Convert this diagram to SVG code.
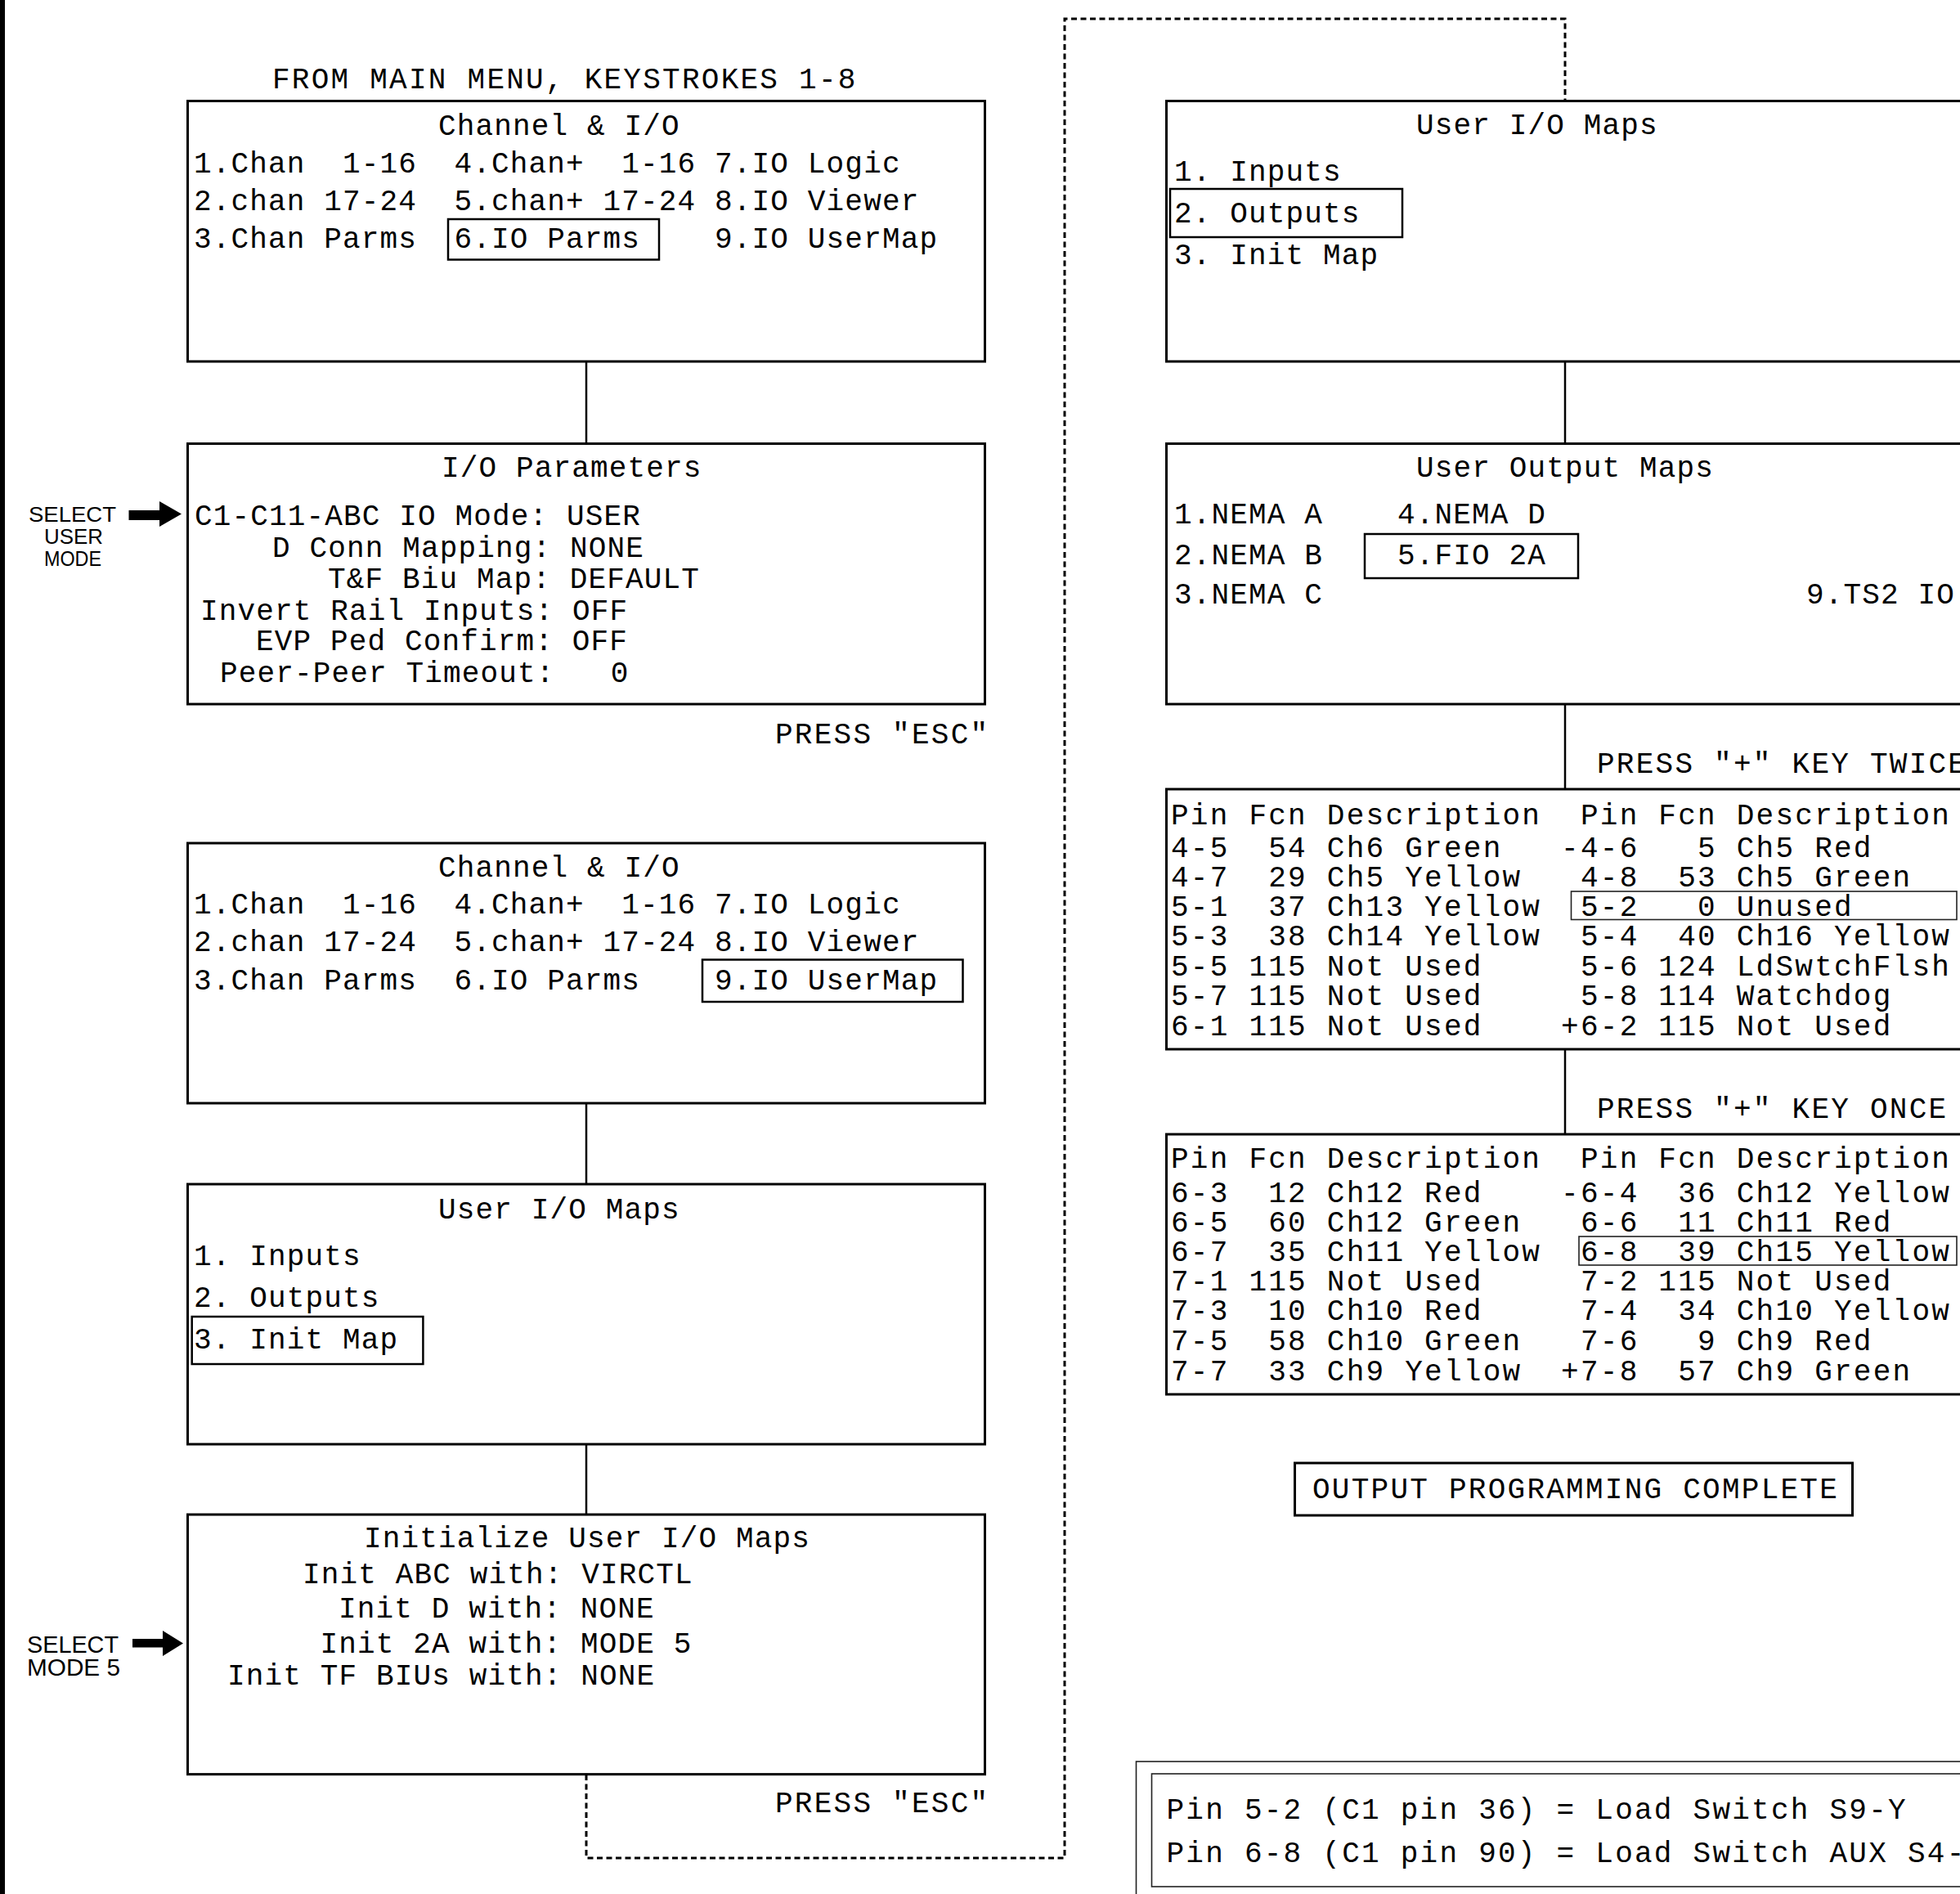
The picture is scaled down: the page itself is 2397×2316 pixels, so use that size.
<svg xmlns="http://www.w3.org/2000/svg" width="2397" height="2316" viewBox="0 0 2397 2316">
<style>
.box{fill:none;stroke:#000;stroke-width:3}
.hl{fill:none;stroke:#000;stroke-width:2.5}
.thin{fill:none;stroke:#222;stroke-width:1.6}
.con{fill:none;stroke:#000;stroke-width:2.5}
.dash{fill:none;stroke:#000;stroke-width:3;stroke-dasharray:7 4.5}
text{font-family:"Liberation Mono","DejaVu Sans Mono",monospace;font-size:36px;fill:#000;white-space:pre}
.m{letter-spacing:1.15px}
.t{letter-spacing:2.25px}
text.lbl1{font-family:"Liberation Sans",Arial,sans-serif;font-size:26px;letter-spacing:0}
text.lbl2{font-family:"Liberation Sans",Arial,sans-serif;font-size:29px;letter-spacing:0}
</style>
<rect x="0" y="0" width="6" height="2316" fill="#000"/>

<g id="connectors">
<line class="con" x1="717" y1="442" x2="717" y2="542.5"/>
<line class="con" x1="717" y1="1349" x2="717" y2="1448"/>
<line class="con" x1="717" y1="1766" x2="717" y2="1852"/>
<line class="con" x1="1914" y1="442" x2="1914" y2="542.5"/>
<line class="con" x1="1914" y1="861" x2="1914" y2="965"/>
<line class="con" x1="1914" y1="1283" x2="1914" y2="1387"/>
<path class="dash" d="M717,2170 V2272 H1302 V23 H1914 V123.5"/>
<polygon points="157.5,624 195,624 195,613 222,628.5 195,644 195,636 157.5,636" fill="#000"/>
<polygon points="162,2004 199,2004 199,1994 224,2009.5 199,2025 199,2014.6 162,2014.6" fill="#000"/>
</g>

<g id="labels">
<text class="t" x="333" y="108">FROM MAIN MENU, KEYSTROKES 1-8</text>
<text class="t" x="948" y="909">PRESS "ESC"</text>
<text class="t" x="948" y="2216">PRESS "ESC"</text>
<text class="t" x="1953" y="945">PRESS "+" KEY TWICE</text>
<text class="t" x="1953" y="1367">PRESS "+" KEY ONCE</text>
<text class="lbl1" x="35" y="638" textLength="107" lengthAdjust="spacingAndGlyphs">SELECT</text>
<text class="lbl1" x="54" y="665" textLength="72" lengthAdjust="spacingAndGlyphs">USER</text>
<text class="lbl1" x="54" y="692" textLength="70" lengthAdjust="spacingAndGlyphs">MODE</text>
<text class="lbl2" x="33" y="2021" textLength="112" lengthAdjust="spacingAndGlyphs">SELECT</text>
<text class="lbl2" x="33" y="2049" textLength="114" lengthAdjust="spacingAndGlyphs">MODE 5</text>
</g>

<g id="channel-io-1">
<rect class="box" x="229.5" y="123.5" width="975" height="318.5"/>
<text class="m" x="536" y="165">Channel &amp; I/O</text>
<text class="m" x="237" y="211">1.Chan  1-16  4.Chan+  1-16 7.IO Logic</text>
<text class="m" x="237" y="257">2.chan 17-24  5.chan+ 17-24 8.IO Viewer</text>
<text class="m" x="237" y="303">3.Chan Parms  6.IO Parms    9.IO UserMap</text>
<rect class="hl" x="548" y="268" width="258" height="49.5"/>
</g>

<g id="io-parameters">
<rect class="box" x="229.5" y="542.5" width="975" height="318.5"/>
<text class="m" x="540" y="583">I/O Parameters</text>
<text class="m" x="238" y="642">C1-C11-ABC IO Mode: USER</text>
<text class="m" x="333" y="681">D Conn Mapping: NONE</text>
<text class="m" x="401" y="719">T&amp;F Biu Map: DEFAULT</text>
<text class="m" x="245" y="758">Invert Rail Inputs: OFF</text>
<text class="m" x="313" y="795">EVP Ped Confirm: OFF</text>
<text class="m" x="269" y="833.5">Peer-Peer Timeout:   0</text>
</g>

<g id="channel-io-2">
<rect class="box" x="229.5" y="1031" width="975" height="318"/>
<text class="m" x="536" y="1072">Channel &amp; I/O</text>
<text class="m" x="237" y="1117">1.Chan  1-16  4.Chan+  1-16 7.IO Logic</text>
<text class="m" x="237" y="1163">2.chan 17-24  5.chan+ 17-24 8.IO Viewer</text>
<text class="m" x="237" y="1210">3.Chan Parms  6.IO Parms    9.IO UserMap</text>
<rect class="hl" x="859" y="1173.5" width="318.5" height="51.5"/>
</g>

<g id="user-io-maps-1">
<rect class="box" x="229.5" y="1448" width="975" height="318"/>
<text class="m" x="536" y="1490">User I/O Maps</text>
<text class="m" x="237" y="1547">1. Inputs</text>
<text class="m" x="237" y="1598">2. Outputs</text>
<text class="m" x="237" y="1649">3. Init Map</text>
<rect class="hl" x="234.7" y="1610" width="282.7" height="58"/>
</g>

<g id="init-user-io-maps">
<rect class="box" x="229.5" y="1852" width="975" height="317.6"/>
<text class="m" x="445" y="1892">Initialize User I/O Maps</text>
<text class="m" x="370" y="1936">Init ABC with: VIRCTL</text>
<text class="m" x="414" y="1978">Init D with: NONE</text>
<text class="m" x="391.5" y="2020.6">Init 2A with: MODE 5</text>
<text class="m" x="278" y="2060">Init TF BIUs with: NONE</text>
</g>

<g id="user-io-maps-2">
<rect class="box" x="1426.5" y="123.5" width="975" height="318.5"/>
<text class="m" x="1732" y="164">User I/O Maps</text>
<text class="m" x="1436" y="221">1. Inputs</text>
<text class="m" x="1436" y="271.5">2. Outputs</text>
<text class="m" x="1436" y="323">3. Init Map</text>
<rect class="hl" x="1431" y="231" width="284" height="59"/>
</g>

<g id="user-output-maps">
<rect class="box" x="1426.5" y="542.5" width="975" height="318.5"/>
<text class="m" x="1732" y="583">User Output Maps</text>
<text class="m" x="1436" y="640">1.NEMA A    4.NEMA D</text>
<text class="m" x="1436" y="690">2.NEMA B    5.FIO 2A</text>
<text class="m" x="1436" y="738">3.NEMA C</text>
<text class="m" x="2209" y="738">9.TS2 IO</text>
<rect class="hl" x="1669" y="653" width="261" height="54"/>
</g>

<g id="output-table-1">
<rect class="box" x="1426.5" y="965" width="975" height="318"/>
<text class="t" x="1432" y="1008">Pin Fcn Description  Pin Fcn Description</text>
<text class="t" x="1432" y="1048">4-5  54 Ch6 Green   -4-6   5 Ch5 Red</text>
<text class="t" x="1432" y="1084">4-7  29 Ch5 Yellow   4-8  53 Ch5 Green</text>
<text class="t" x="1432" y="1120">5-1  37 Ch13 Yellow  5-2   0 Unused</text>
<text class="t" x="1432" y="1156">5-3  38 Ch14 Yellow  5-4  40 Ch16 Yellow</text>
<text class="t" x="1432" y="1193">5-5 115 Not Used     5-6 124 LdSwtchFlsh</text>
<text class="t" x="1432" y="1229">5-7 115 Not Used     5-8 114 Watchdog</text>
<text class="t" x="1432" y="1266">6-1 115 Not Used    +6-2 115 Not Used</text>
<rect class="thin" x="1921.5" y="1090" width="471.5" height="34.5"/>
</g>

<g id="output-table-2">
<rect class="box" x="1426.5" y="1387" width="975" height="318"/>
<text class="t" x="1432" y="1428">Pin Fcn Description  Pin Fcn Description</text>
<text class="t" x="1432" y="1470">6-3  12 Ch12 Red    -6-4  36 Ch12 Yellow</text>
<text class="t" x="1432" y="1506">6-5  60 Ch12 Green   6-6  11 Ch11 Red</text>
<text class="t" x="1432" y="1542">6-7  35 Ch11 Yellow  6-8  39 Ch15 Yellow</text>
<text class="t" x="1432" y="1578">7-1 115 Not Used     7-2 115 Not Used</text>
<text class="t" x="1432" y="1614">7-3  10 Ch10 Red     7-4  34 Ch10 Yellow</text>
<text class="t" x="1432" y="1651">7-5  58 Ch10 Green   7-6   9 Ch9 Red</text>
<text class="t" x="1432" y="1688">7-7  33 Ch9 Yellow  +7-8  57 Ch9 Green</text>
<rect class="thin" x="1931" y="1512" width="462" height="35"/>
</g>

<g id="output-complete">
<rect class="box" x="1583.5" y="1789" width="682" height="64"/>
<text class="t" x="1605" y="1832">OUTPUT PROGRAMMING COMPLETE</text>
</g>

<g id="notes">
<rect class="thin" x="1389.5" y="2154" width="1030" height="200"/>
<rect class="thin" x="1408.5" y="2169" width="1000" height="138"/>
<text class="t" x="1426.5" y="2224">Pin 5-2 (C1 pin 36) = Load Switch S9-Y</text>
<text class="t" x="1426.5" y="2277">Pin 6-8 (C1 pin 90) = Load Switch AUX S4-</text>
</g>
</svg>
